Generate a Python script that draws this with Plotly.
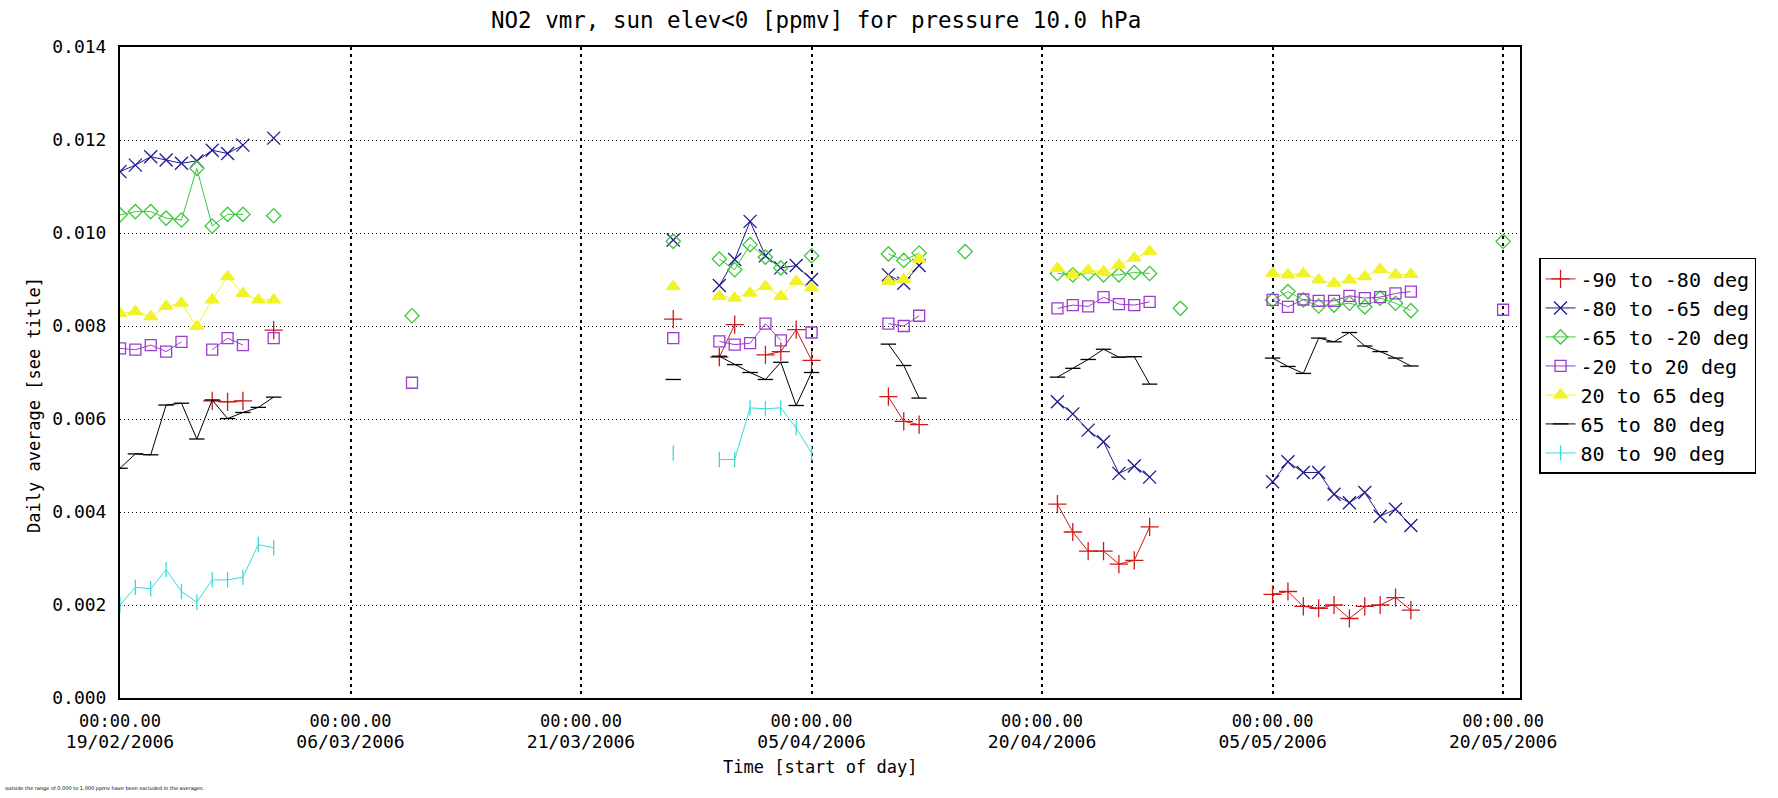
import pandas as pd
import plotly.graph_objects as go

START = "2006-02-19"

# ---- data: day offset from 19/02/2006 and daily average NO2 vmr (ppmv) ----
red_days = [6, 7, 8, 10, 36, 39, 40, 42, 43, 44, 45, 50, 51, 52,
            61, 62, 63, 64, 65, 66, 67, 75, 76, 77, 78, 79, 80, 81, 82, 83, 84]
red_vals = [0.00639, 0.00637, 0.00639, 0.00791, 0.00815, 0.00733, 0.00803, 0.00738, 0.00745, 0.00792, 0.00726,
            0.00648, 0.00595, 0.00588,
            0.00417, 0.00357, 0.00316, 0.00316, 0.00288, 0.00296, 0.00368,
            0.00223, 0.00229, 0.00197, 0.00193, 0.00200, 0.00171, 0.00197, 0.00200, 0.00216, 0.00189]

blue_days = [0, 1, 2, 3, 4, 5, 6, 7, 8, 10, 36, 39, 40, 41, 42, 43, 44, 45, 50, 51, 52,
             61, 62, 63, 64, 65, 66, 67, 75, 76, 77, 78, 79, 80, 81, 82, 83, 84]
blue_vals = [0.01132, 0.01146, 0.01164, 0.01157, 0.01150, 0.01155, 0.01178, 0.01171, 0.01189, 0.01204,
             0.00985, 0.00887, 0.00943, 0.01025, 0.00951, 0.00925, 0.00930, 0.00900,
             0.00910, 0.00892, 0.00930,
             0.00637, 0.00611, 0.00576, 0.00551, 0.00483, 0.00499, 0.00475,
             0.00465, 0.00508, 0.00485, 0.00485, 0.00438, 0.00420, 0.00442, 0.00391, 0.00406, 0.00371]

green_days = [0, 1, 2, 3, 4, 5, 6, 7, 8, 10, 19, 36, 39, 40, 41, 42, 43, 45, 50, 51, 52, 55,
              61, 62, 63, 64, 65, 66, 67, 69, 75, 76, 77, 78, 79, 80, 81, 82, 83, 84, 90]
green_vals = [0.01039, 0.01046, 0.01046, 0.01032, 0.01028, 0.01139, 0.01015, 0.01040, 0.01040, 0.01037,
              0.00822, 0.00982, 0.00944, 0.00921, 0.00975, 0.00948, 0.00925, 0.00951,
              0.00955, 0.00941, 0.00957, 0.00960,
              0.00913, 0.00910, 0.00913, 0.00910, 0.00910, 0.00915, 0.00913, 0.00838,
              0.00856, 0.00874, 0.00856, 0.00843, 0.00845, 0.00849, 0.00841, 0.00860, 0.00849, 0.00833,
              0.00982]

purple_days = [0, 1, 2, 3, 4, 6, 7, 8, 10, 19, 36, 39, 40, 41, 42, 43, 45, 50, 51, 52,
               61, 62, 63, 64, 65, 66, 67, 75, 76, 77, 78, 79, 80, 81, 82, 83, 84, 90]
purple_vals = [0.00752, 0.00749, 0.00759, 0.00745, 0.00766, 0.00749, 0.00774, 0.00759, 0.00774,
               0.00678, 0.00774, 0.00767, 0.00760, 0.00763, 0.00805, 0.00769, 0.00786,
               0.00805, 0.00800, 0.00822,
               0.00838, 0.00845, 0.00842, 0.00862, 0.00847, 0.00845, 0.00852,
               0.00856, 0.00841, 0.00857, 0.00854, 0.00854, 0.00865, 0.00860, 0.00862, 0.00870, 0.00874,
               0.00835]

yellow_days = [0, 1, 2, 3, 4, 5, 6, 7, 8, 9, 10, 36, 39, 40, 41, 42, 43, 44, 45, 50, 51, 52,
               61, 62, 63, 64, 65, 66, 67, 75, 76, 77, 78, 79, 80, 81, 82, 83, 84]
yellow_vals = [0.00827, 0.00831, 0.00820, 0.00842, 0.00849, 0.00799, 0.00856, 0.00906, 0.00870, 0.00856, 0.00856,
               0.00885, 0.00864, 0.00860, 0.00871, 0.00885, 0.00864, 0.00896, 0.00882,
               0.00896, 0.00900, 0.00944,
               0.00924, 0.00910, 0.00920, 0.00917, 0.00931, 0.00946, 0.00960,
               0.00913, 0.00910, 0.00913, 0.00899, 0.00892, 0.00899, 0.00906, 0.00922, 0.00910, 0.00911]

black_days = [0, 1, 2, 3, 4, 5, 6, 7, 8, 9, 10, 36, 39, 40, 41, 42, 43, 44, 45, 50, 51, 52,
              61, 62, 63, 64, 65, 66, 67, 75, 76, 77, 78, 79, 80, 81, 82, 83, 84]
black_vals = [0.00494, 0.00525, 0.00523, 0.00630, 0.00634, 0.00557, 0.00641, 0.00601, 0.00614, 0.00625, 0.00647,
              0.00685, 0.00735, 0.00717, 0.00700, 0.00685, 0.00722, 0.00629, 0.00700,
              0.00761, 0.00715, 0.00645,
              0.00690, 0.00709, 0.00728, 0.00750, 0.00733, 0.00734, 0.00675,
              0.00731, 0.00713, 0.00698, 0.00774, 0.00766, 0.00786, 0.00757, 0.00745, 0.00731, 0.00714]

cyan_days = [0, 1, 2, 3, 4, 5, 6, 7, 8, 9, 10, 36, 39, 40, 41, 42, 43, 44, 45]
cyan_vals = [0.00200, 0.00238, 0.00235, 0.00276, 0.00229, 0.00206, 0.00254, 0.00254, 0.00260, 0.00330, 0.00323,
             0.00527, 0.00513, 0.00513, 0.00624, 0.00622, 0.00624, 0.00581, 0.00527]

series_names = ["-90 to -80 deg", "-80 to -65 deg", "-65 to -20 deg", "-20 to 20 deg",
                "20 to 65 deg", "65 to 80 deg", "80 to 90 deg"]

tick_days = [0, 15, 30, 45, 60, 75, 90]
tick_times = ["00:00.00"] * 7
tick_dates = ["19/02/2006", "06/03/2006", "21/03/2006", "05/04/2006",
              "20/04/2006", "05/05/2006", "20/05/2006"]
y_ticks = [0.000, 0.002, 0.004, 0.006, 0.008, 0.010, 0.012, 0.014]

start = pd.Timestamp(START)


def to_xy(days, vals):
    xs, ys = [], []
    prev = None
    for d, v in zip(days, vals):
        if prev is not None and d - prev > 1:
            xs.append(start + pd.Timedelta(days=(prev + d) / 2))
            ys.append(None)
        xs.append(start + pd.Timedelta(days=d))
        ys.append(v)
        prev = d
    return xs, ys


styles = [
    dict(color="#d01818", symbol="cross-thin-open", size=13),
    dict(color="#1c1c8c", symbol="x-thin-open", size=13),
    dict(color="#3cc83c", symbol="diamond-open", size=11),
    dict(color="#9a3ccc", symbol="square-open", size=11),
    dict(color="#f2f22a", symbol="triangle-up", size=12),
    dict(color="#000000", symbol="line-ew-open", size=11),
    dict(color="#38dada", symbol="line-ns-open", size=11),
]
data = [(red_days, red_vals), (blue_days, blue_vals), (green_days, green_vals),
        (purple_days, purple_vals), (yellow_days, yellow_vals), (black_days, black_vals),
        (cyan_days, cyan_vals)]

fig = go.Figure()
for i, ((d, v), name, st) in enumerate(zip(data, series_names, styles)):
    xs, ys = to_xy(d, v)
    fig.add_trace(go.Scatter(
        x=xs, y=ys, name=name, mode="lines+markers", connectgaps=False,
        legendgroup=f"g{i}",
        line=dict(color=st["color"], width=1),
        marker=dict(symbol=st["symbol"], size=st["size"], color=st["color"],
                    line=dict(color=st["color"], width=1.3)),
    ))

mono = "DejaVu Sans Mono"
x_range = [start, start + pd.Timedelta(days=91.1)]
x_ticks = [start + pd.Timedelta(days=t) for t in tick_days]

fig.update_layout(
    width=1778, height=798,
    margin=dict(l=120, r=258, t=47, b=100),
    paper_bgcolor="white", plot_bgcolor="white",
    font=dict(family=mono, size=18, color="black"),
    showlegend=True,
    legend=dict(x=1.0136, xanchor="left", y=0.676, yanchor="top",
                bordercolor="black", borderwidth=1.5, bgcolor="white",
                font=dict(family=mono, size=20, color="black"),
                traceorder="grouped", tracegroupgap=0, itemwidth=30),
    xaxis=dict(
        type="date", range=x_range, tickvals=x_ticks, ticktext=tick_times,
        tickfont=dict(family=mono, size=17, color="black"),
        showgrid=True, gridcolor="black", gridwidth=1.6, griddash="3px,4px",
        showline=True, mirror=True, linecolor="black", linewidth=2,
        ticks="", zeroline=False, ticklabelstandoff=7,
    ),
    xaxis2=dict(
        type="date", range=x_range, tickvals=x_ticks, ticktext=tick_dates,
        overlaying="x", matches="x", anchor="y", side="bottom",
        tickfont=dict(family=mono, size=18, color="black"),
        showgrid=False, showline=False, ticks="", zeroline=False,
        ticklabelstandoff=31,
    ),
    yaxis=dict(
        range=[0, 0.014], tickvals=y_ticks, tickformat=".3f",
        tickfont=dict(family=mono, size=18, color="black"),
        showgrid=True, gridcolor="black", gridwidth=1, griddash="1px,3px",
        showline=True, mirror=True, linecolor="black", linewidth=2,
        ticks="", zeroline=False, ticklabelstandoff=8,
    ),
)
# invisible trace so that the second (date-label) x axis is drawn
fig.add_trace(go.Scatter(x=[x_ticks[0]], y=[None], xaxis="x2", yaxis="y",
                         showlegend=False, hoverinfo="skip", mode="lines"))

# title, axis titles and footnote
fig.add_annotation(text="NO2 vmr, sun elev<0 [ppmv] for pressure 10.0 hPa",
                   xref="paper", yref="paper", x=(816 - 120) / 1400, y=(698 - 20) / 651,
                   showarrow=False, xanchor="center", yanchor="middle",
                   font=dict(family=mono, size=22.5, color="black"))
fig.add_annotation(text="Daily average [see title]", xref="paper", yref="paper",
                   x=(34 - 120) / 1400, y=(698 - 405) / 651, textangle=-90,
                   showarrow=False, xanchor="center", yanchor="middle",
                   font=dict(family=mono, size=17, color="black"))
fig.add_annotation(text="Time [start of day]", xref="paper", yref="paper",
                   x=0.5, y=(698 - 767) / 651,
                   showarrow=False, xanchor="center", yanchor="middle",
                   font=dict(family=mono, size=17, color="black"))
fig.add_annotation(text="outside the range of 0.000 to 1.000 ppmv have been excluded in the averages.",
                   xref="paper", yref="paper", x=(3 - 120) / 1400, y=(698 - 789) / 651,
                   showarrow=False, xanchor="left", yanchor="middle",
                   font=dict(family="DejaVu Sans", size=5, color="black"))

fig.write_html("out.html", config={"displayModeBar": False},
               post_script="document.body.style.margin='0px';")
